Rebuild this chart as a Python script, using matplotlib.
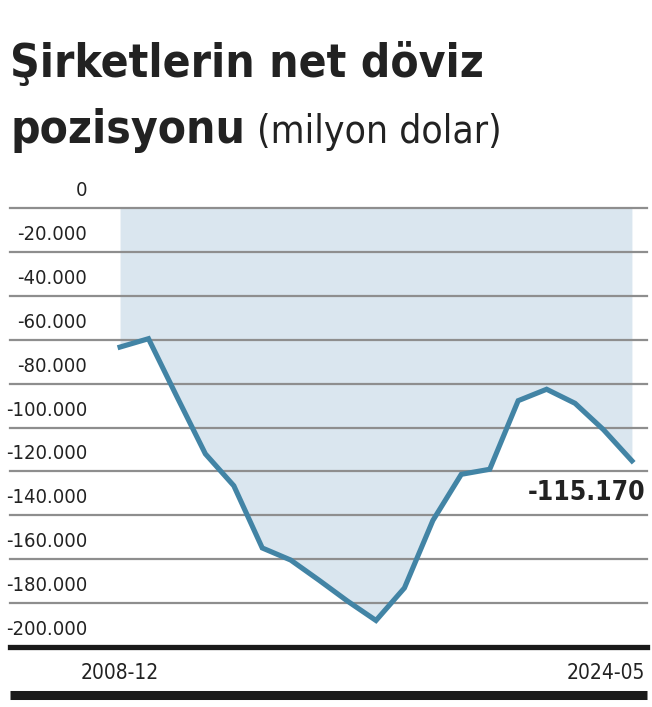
import numpy as np
import matplotlib
matplotlib.use('Agg')
import matplotlib.pyplot as plt
import matplotlib.transforms as mtransforms
from matplotlib.lines import Line2D

start_label = '2008-12'
end_label = '2024-05'
values = [-63400, -59600, -86000, -112000, -126500, -154800, -160300, -169500,
          -179000, -187800, -173000, -142300, -121300, -119000, -87800, -82600,
          -89000, -101000, -115170]
last_label = '-115.170'
y_ticks = [0, -20000, -40000, -60000, -80000, -100000, -120000, -140000,
           -160000, -180000, -200000]
y_tick_labels = ['0', '-20.000', '-40.000', '-60.000', '-80.000', '-100.000',
                 '-120.000', '-140.000', '-160.000', '-180.000', '-200.000']

# condensed DejaVu is the closest to the narrow newspaper font
plt.rcParams['font.family'] = ['DejaVu Sans']
plt.rcParams['font.stretch'] = 'condensed'
text_color = '#222222'
line_color = '#4284a5'
fill_color = '#dae6ef'
grid_color = '#8e8e8e'

W, H = 652, 707
fig = plt.figure(figsize=(W / 100, H / 100), dpi=100)

def fx(px):
    return px / W

def fy(py):
    return 1 - py / H

# Axes frame: x 10..647 px, y 207.7 (0) .. 647.3 (-200000)
ax = fig.add_axes([fx(10), fy(647.3), fx(647) - fx(10), fy(207.7) - fy(647.3)])
x = np.arange(len(values))
ax.set_xlim(-3.87, 18.53)
ax.set_ylim(-200000, 0)
ax.axis('off')

# Grid lines
for v in y_ticks[:-1]:
    ax.axhline(v, color=grid_color, lw=1.6, zorder=1, clip_on=False)
ax.axhline(-200000, color='#1a1a1a', lw=3.8, zorder=5, clip_on=False)

# Area and line
ax.fill_between(x, values, 0, color=fill_color, lw=0, zorder=0)
ax.plot(x, values, color=line_color, lw=3.7, solid_joinstyle='miter', zorder=4)

# Y labels sit above their grid lines
label_trans = mtransforms.offset_copy(ax.get_yaxis_transform(), fig=fig,
                                      x=0, y=12, units='dots')
x_lab = (87 - 10) / (647 - 10)
for v, lab in zip(y_ticks, y_tick_labels):
    ax.text(x_lab, v, lab, transform=label_trans, ha='right', va='baseline',
            fontsize=14.5, color=text_color)

# Last value annotation
ax.text(18.46, -129800, last_label, ha='right', va='center', fontsize=19,
        fontweight='bold', color=text_color, zorder=6,
        bbox=dict(facecolor='white', edgecolor='none', pad=2))

# X labels
fig.text(fx(120), fy(679), start_label, ha='center', va='baseline',
         fontsize=15, color=text_color)
fig.text(fx(645), fy(679), end_label, ha='right', va='baseline',
         fontsize=15, color=text_color)

# Bottom bar
fig.add_artist(Line2D([fx(10), fx(647)], [fy(695), fy(695)], color='#1a1a1a',
                      lw=6.5, solid_capstyle='butt'))

# Title
fig.text(fx(10), fy(77), 'Şirketlerin net döviz', ha='left', va='baseline',
         fontsize=33, fontweight='bold', color=text_color)
fig.text(fx(10), fy(143), 'pozisyonu', ha='left', va='baseline',
         fontsize=33, fontweight='bold', color=text_color)
fig.text(fx(257), fy(143), '(milyon dolar)', ha='left', va='baseline',
         fontsize=28, color=text_color)

fig.savefig('out.png', dpi=100)
